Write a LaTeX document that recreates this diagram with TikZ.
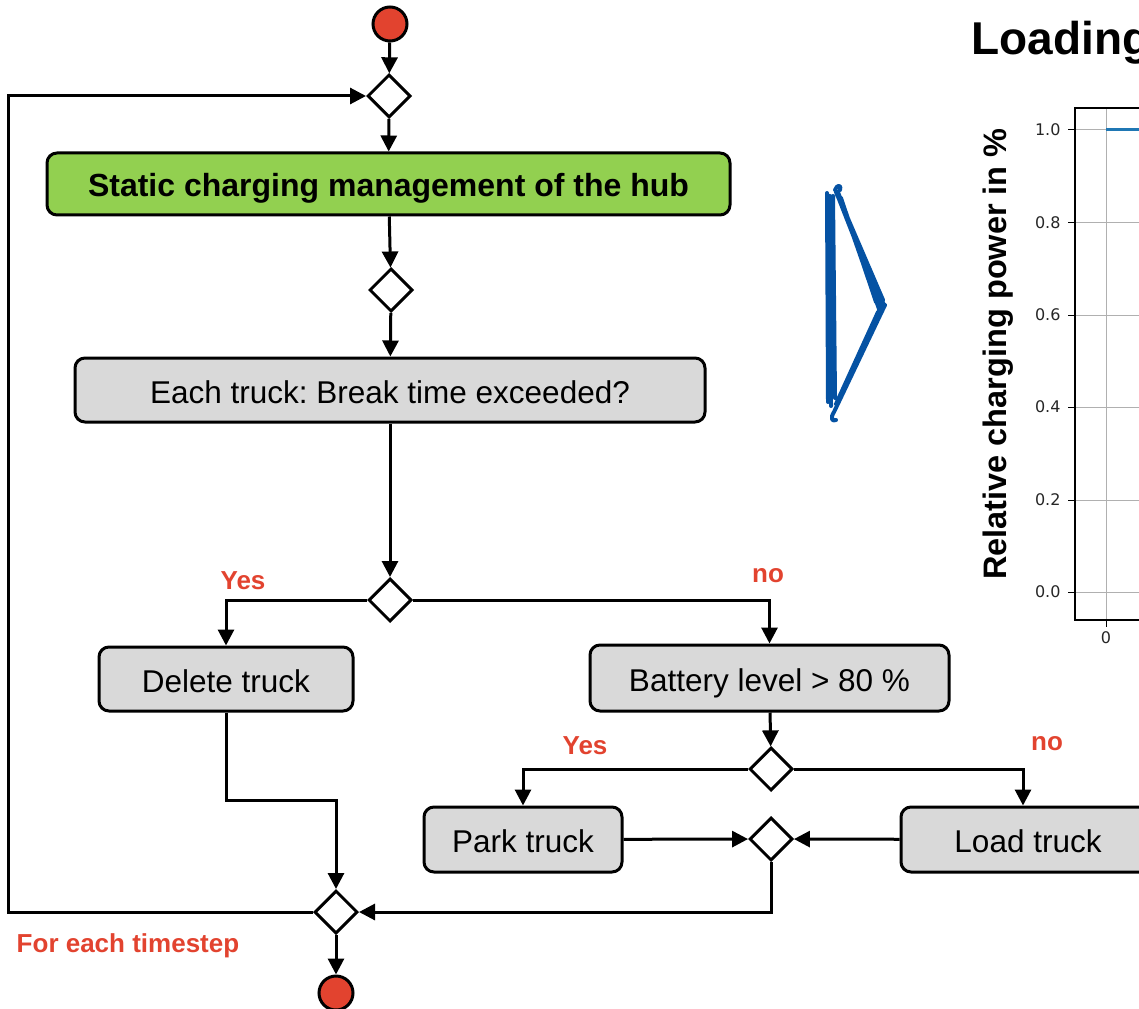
\documentclass[tikz,border=0pt]{standalone}
\usepackage{fontspec}
\setmainfont{Liberation Sans}
\newfontfamily\mplfont{DejaVu Sans}
\usetikzlibrary{shapes.geometric,arrows.meta}
\definecolor{stopred}{HTML}{E2432F}
\definecolor{hubgreen}{HTML}{92D050}
\definecolor{boxgray}{HTML}{D9D9D9}
\definecolor{labelred}{HTML}{E2432F}
\definecolor{penblue}{HTML}{0552A3}
\definecolor{mplblue}{HTML}{1F77B4}
\definecolor{gridgray}{HTML}{B0B0B0}

\begin{document}
\frenchspacing
\begin{tikzpicture}[x=1pt, y=-1pt,
    flow/.style={line width=3pt, -{Triangle[length=16pt,width=16pt]}},
    terminal/.style={circle, draw, line width=3pt, fill=stopred, minimum size=34pt, inner sep=0pt},
    branch/.style={diamond, draw, line width=3pt, fill=white, minimum size=43pt, inner sep=0pt},
    box/.style={draw, line width=3pt, rounded corners=10pt, fill=boxgray, minimum height=64pt,
                text height=28pt, text depth=2pt, font=\fontsize{31.5}{36}\selectfont},
    hubbox/.style={box, fill=hubgreen, font=\fontsize{32}{36}\selectfont\bfseries},
    answer/.style={text=labelred, font=\fontsize{26}{30}\selectfont\bfseries},
    ticklabel/.style={font=\mplfont\fontsize{16}{19}\selectfont, text=black!85}
]
    \useasboundingbox (0,0) rectangle (1139,1008);
    \clip (0,0) rectangle (1139,1008);

    % flow chart
    \node[terminal] (start) at (390,24) {};
    \node[branch] (d1) at (389,96) {};
    \node[hubbox, minimum width=683pt, minimum height=62pt] (hub) at (388.5,184) {Static charging management of the hub};
    \node[branch] (d2) at (391,290) {};
    \node[box, minimum width=630pt] (each) at (390,390) {Each truck: Break time exceeded?};
    \node[branch] (d3) at (390,600) {};
    \node[box, minimum width=254pt] (delete) at (226,679) {Delete truck};
    \node[box, minimum width=359pt, minimum height=66pt] (battery) at (769.5,678) {Battery level > 80 \%};
    \node[branch] (d4) at (771,769) {};
    \node[box, minimum width=198pt, minimum height=65pt] (park) at (523,839.5) {Park truck};
    \node[box, minimum width=254pt, minimum height=65pt] (load) at (1028,839.5) {Load truck};
    \node[branch] (d5) at (771,839) {};
    \node[branch] (d6) at (336,912) {};
    \node[terminal] (stop) at (336,993) {};

    \node[answer] (yes1) at (243,581) {Yes};
    \node[answer] (no1) at (768,576) {no};
    \node[answer] (yes2) at (585,746) {Yes};
    \node[answer] (no2) at (1047,744) {no};
    \node[answer] (loop) at (128,946) {For each timestep};

    \coordinate (dbend) at (226,800);
    \coordinate (loopcorner) at (8,96);

    \draw[flow] (start) -- (d1);
    \draw[flow] (d1) -- (hub);
    \draw[flow] (hub) -- (d2);
    \draw[flow] (d2) -- (each);
    \draw[flow] (each) -- (d3);
    \draw[flow] (d3.west) -| (delete.north);
    \draw[flow] (d3.east) -| (battery.north);
    \draw[flow] (battery) -- (d4);
    \draw[flow] (d4.west) -| (park.north);
    \draw[flow] (d4.east) -| ([xshift=-5pt]load.north);
    \draw[flow] (park) -- (d5);
    \draw[flow] (load) -- (d5);
    \draw[flow] (d5.south) |- (d6.east);
    \draw[flow] (delete.south) -- (dbend) -| (d6.north);
    \draw[flow] (d6.west) -| (loopcorner) -- (d1.west);
    \draw[flow] (d6) -- (stop);

    % hand drawn arrow
    \draw[penblue, line width=4pt, line cap=round, line join=round]
        (827,193) -- (828,402)
        (830,196) -- (831,406)
        (833,196) -- (835,398)
        (835,190) .. controls (837,184) and (842,185) .. (840,190)
        (836,192) -- (884,305)
        (837,194) -- (880,304)
        (838,192) -- (879,309)
        (840,200) -- (883,300)
        (841,198) -- (876,302)
        (885,305) -- (834,412)
        (881,307) -- (838,400)
        (878,312) -- (836,404)
        (834,412) .. controls (830,418) and (832,422) .. (836,420);

    % chart
    \node[font=\fontsize{46}{52}\selectfont\bfseries, anchor=base west] (title) at (968,55) {Loading};
    \node[font=\fontsize{32.5}{38}\selectfont\bfseries, rotate=90] (ylabel) at (998,354) {Relative charging power in \%};
    \foreach \v/\y in {0.0/592,0.2/500,0.4/407,0.6/315,0.8/223,1.0/130} {
        \draw[gridgray, line width=1pt] (1075,\y) -- (1139,\y);
        \draw[line width=1pt] (1068,\y) -- (1075,\y);
        \node[ticklabel, anchor=east] at (1064,\y) {\v};
    }
    \draw[gridgray, line width=1pt] (1106,108) -- (1106,620);
    \draw[line width=1pt] (1106,620) -- (1106,627);
    \node[ticklabel, anchor=north] at (1106,628) {0};
    \draw[mplblue, line width=3pt] (1106,130) -- (1139,130);
    \draw[line width=1.3pt] (1140,108) -- (1075,108) -- (1075,620) -- (1140,620);
\end{tikzpicture}
\end{document}
